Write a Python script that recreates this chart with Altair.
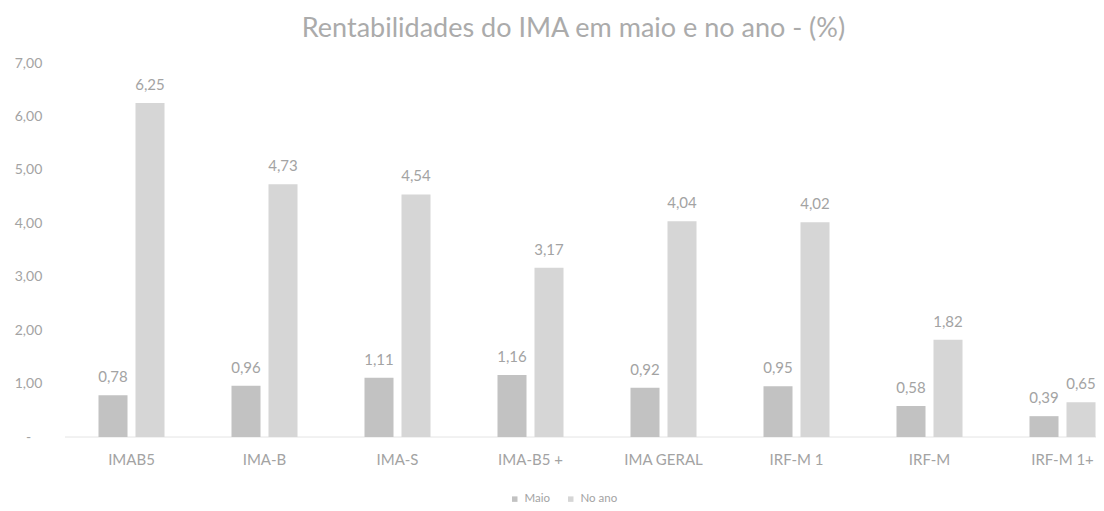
import altair as alt
import pandas as pd

categorias = ["IMAB5", "IMA-B", "IMA-S", "IMA-B5 +", "IMA GERAL", "IRF-M 1", "IRF-M", "IRF-M 1+"]
maio = [0.78, 0.96, 1.11, 1.16, 0.92, 0.95, 0.58, 0.39]
no_ano = [6.25, 4.73, 4.54, 3.17, 4.04, 4.02, 1.82, 0.65]
series = ["Maio", "No ano"]
cores = ["#c2c2c2", "#d6d6d6"]
y_ticks = [0, 1, 2, 3, 4, 5, 6, 7]

rows = []
for c, m, a in zip(categorias, maio, no_ano):
    rows.append({"cat": c, "serie": "Maio", "valor": m})
    rows.append({"cat": c, "serie": "No ano", "valor": a})
df = pd.DataFrame(rows)

FONT = "Lato"
TXT = "#a3a3a3"

x_enc = alt.X("cat:N", sort=categorias,
              scale=alt.Scale(range=[0, 1064], paddingInner=0, paddingOuter=0),
              axis=alt.Axis(title=None, domain=False, ticks=False, labelAngle=0,
                            labelPadding=15, labelFontSize=15, labelColor=TXT,
                            labelFont=FONT))
xo_enc = alt.XOffset("serie:N", sort=series,
                     scale=alt.Scale(paddingInner=0.216, paddingOuter=0.905))
y_enc = alt.Y("valor:Q", scale=alt.Scale(domain=[0, 7], nice=False, zero=True),
              axis=alt.Axis(title=None, values=y_ticks, domain=False, ticks=False,
                            grid=False, labelAlign="center", labelPadding=37,
                            labelFontSize=14, labelColor=TXT, labelFont=FONT,
                            labelExpr="datum.value == 0 ? '-' : replace(format(datum.value, '.2f'), '.', ',')"))

base = alt.Chart(df)

bars = base.mark_bar().encode(
    x=x_enc, xOffset=xo_enc, y=y_enc,
    color=alt.Color("serie:N", sort=series,
                    scale=alt.Scale(domain=series, range=cores),
                    legend=alt.Legend(title=None, orient="none", direction="horizontal",
                                      legendX=444, legendY=430, symbolType="square",
                                      symbolSize=30, labelFontSize=11.5, labelColor=TXT,
                                      labelFont=FONT, columnPadding=14, labelOffset=4)),
)

labels = base.transform_calculate(
    lbl="replace(format(datum.valor, '.2f'), '.', ',')"
).mark_text(baseline="middle", dy=-18, fontSize=15, color=TXT, font=FONT).encode(
    x=x_enc, xOffset=xo_enc, y=y_enc, text="lbl:N"
)

baseline = alt.Chart(pd.DataFrame({"v": [0]})).mark_rule(color="#e4e4e4", strokeWidth=1).encode(
    y=alt.Y("v:Q")
)

chart = alt.layer(baseline, bars, labels).properties(
    width=1031, height=374,
    autosize=alt.AutoSizeParams(type="none"),
    padding={"left": 57, "top": 55, "right": 0, "bottom": 70},
    title=alt.TitleParams("Rentabilidades do IMA em maio e no ano - (%)",
                          fontSize=27, color="#ababab", font=FONT, fontWeight="normal",
                          anchor="middle", offset=13, dx=-7),
).configure_view(stroke=None)

chart.save("out.html", embed_options={"renderer": "svg", "actions": False})
